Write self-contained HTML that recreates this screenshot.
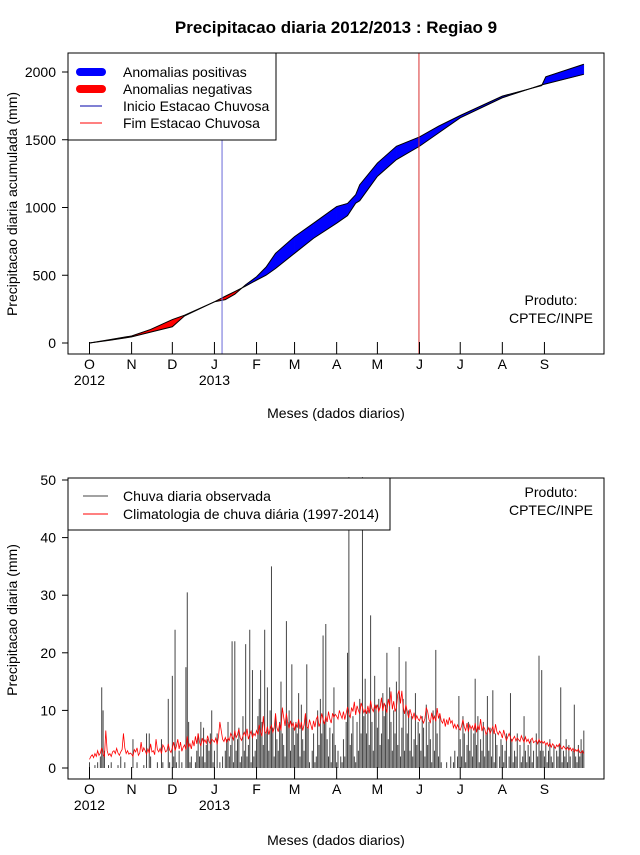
<!DOCTYPE html>
<html><head><meta charset="utf-8"><style>
body{margin:0;background:#fff}
svg text{font-family:"Liberation Sans",sans-serif}
</style></head><body>
<svg id="chart" width="640" height="850" viewBox="0 0 640 850" xmlns="http://www.w3.org/2000/svg">
<rect width="640" height="850" fill="#fff"/>
<text x="336" y="33" text-anchor="middle" font-size="17" font-weight="bold">Precipitacao diaria 2012/2013 : Regiao 9</text>
<g id="topchart"></g><g id="botchart"></g>
</svg>
<script>
// ---- top chart data (cumulative, mm) ----
const cumDays=[0,15,31,45,61,70,92,100,107,115,123,130,137,151,165,182,190,196,199,212,226,243,257,273,304,333,336,364];
const cumObs=[0,20,45,80,120,200,304,320,360,430,489,560,662,785,884,1007,1030,1094,1168,1328,1452,1521,1600,1679,1822,1900,1965,2057];
const cumClim=[0,25,52,100,173,205,304,345,380,420,464,500,550,662,773,884,940,1032,1050,1230,1353,1452,1550,1662,1810,1905,1912,1983];
const topYTicks=[0,500,1000,1500,2000];
const monthLabels=['O','N','D','J','F','M','A','M','J','J','A','S'];
const monthDays=[0,31,61,92,123,151,182,212,243,273,304,335];
const yearLabels=['2012','2013'];
const seasonStart=97.6, seasonEnd=242.6;
// ---- bottom chart data (daily, mm) ----
const dailyObs=[].concat(
[1,0,0,0,0.5,0,1,0,2,14,10,3,0,0,0.5,0,1,0,0,0,0,0.5,0,2,0,0,1,0,0,0,0],
[0,5,0,0,1,0,0,0,0,0.5,0,6,0,6,2,0,0,0,0,1,0,0,5,1,0,0,0,12,1,0],
[16,2,24,1,0,3,0,1,0,0,17.5,30.5,8,1,2,0,0,1,3,6,2,8,2,7,1,4,5,3,6,10,1],
[3,0,6,0,1,0,2,0,3,5,8,2,4,22,1,22,3,5,7,1,2,9,3,21.5,2,4,24,1,17,2,3],
[5,9,12,17,8,4,24,6,14,3,10,35,7,2,9,5,3,8,15,6,4,2,25.5,8,10,3,18,7],
[4,8,6,13,2,11,5,3,9,18,7,1,0,3,6,1,2,10,4,12,6,23,8,25,5,2,7,1,6,14,4],
[1,3,0,2,1,5,2,8,20,55,4,6,9,2,1,8,3,12,6,55,9,15.5,6,10,4,26.5,8,3,16,11],
[7,12,4,6,13,9,11,20,5,14,8,3,10,6,15,4,21,2,7,12,3,18.5,6,10,3,9,2,5,13,4,8],
[6,3,9,7,2,11,4,8,5,1,10,3,20.5,6,2,9,1,0,0,0,1,0,0,2,0,1,3,0,2,12.5],
[5,2,9,6,1,4,8,3,7,2,6,15.5,4,9,1,5,3,8,2,6,12.5,3,7,2,13.5,1,6,4,0,2,5],
[4,1,3,6,0,2,13,5,1,3,2,6,0,4,1,2,9,3,1,4,2,5,1,3,0,6,2,19.5,3,17,3],
[2,4,1,3,5,2,1,4,0,3,2,4,14,1,3,2,5,1,4,2,0,3,11,2,1,4,2,5,3,6.5]);
const dailyClim=[].concat(
[1.5,2,2.3,1.8,2.5,2,3,2.2,2.6,3.5,2.4,2,6.5,3,2.2,2.5,2,2.8,3,2.5,3.4,2.6,2.2,2.8,3.2,6,3.5,2.5,3,2.4,2.6],
[2.4,2,3.2,2.8,3.5,2.2,2.6,4.5,2.8,3.5,3,2.4,3.3,2.6,4.2,2.8,3,2.3,5,3.2,2.8,3.4,2.5,4,3.6,2.8,3,4.2,3.1,2.7],
[3.5,4.5,3,3.8,5,3.3,4.5,2.9,3.6,4,3.2,5.5,3.6,4.2,3.3,4.8,3.8,5.5,4.2,6,4.5,3.8,5.2,4.4,4.9,4.3,5.6,4.6,4.2,5,4.8],
[4.5,5.2,4.1,5.5,8,6.5,5,4.6,5.3,4.5,5.2,4.8,6,5.5,4.9,6.5,5.3,5.8,6.8,5.2,4.8,5.6,6.2,5.5,6.8,5,5.8,6.4,5.3,6,5.6],
[6.5,5.8,7.5,6.2,5.5,9,6.4,6,7.2,5.8,6.7,7.4,6.2,6.9,9.5,7,6.3,7.8,6.5,10.5,8.8,7.3,9.5,7.8,6.9,8.2,7.2,7.8],
[6.5,7.8,7,8.5,6.8,8,6.5,7.5,9.5,7.2,6.9,8.4,7.5,6.6,8.2,7.1,8.5,9,7.2,7.9,9.5,8.4,7.6,9,8,9.8,8.5,7.8,9.5,8.8,9.3],
[9,8.5,10,9.2,8.6,9.8,8.4,9.5,10.6,9.3,8.8,10.5,9.8,11.5,9.2,10.8,10,9.4,11.3,10.5,9.6,10.2,9.4,10.8,9.5,11.7,10.3,9.8,10.9,10.2],
[11,9.8,10.5,12.2,9.9,11.3,10.4,9.6,12,10.8,13.3,10.2,11.6,9.8,10.5,12.8,13.5,11.2,13.4,10.5,9.4,11,9.8,8.7,10.2,9.3,8.6,9.6,8.3,9.1,8.5],
[8.2,9,8.4,7.8,8.6,10.5,9.8,8.4,7.9,9.6,8.3,9,8.1,10.4,8.6,9.5,8.2,7.8,8.6,7.2,8.4,7.5,8.8,7.8,8.2,7,7.6,6.8,7.5,6.9],
[6.6,7.3,8.4,7.1,6.5,7.8,6.3,7.5,6.8,7.3,6.5,7.8,6.2,7.4,6.6,8.5,6.4,7.2,6.8,5.8,6.4,7,6,6.6,7.2,5.9,7.6,6.3,5.8,6.4,6],
[5.2,6.6,5.6,4.8,5.4,6,5.3,4.6,5.1,5.5,4.7,5.2,4.9,4.6,5.6,5,4.5,5.4,4.6,5,4.3,4.9,5.2,4.4,4.6,4.8,4.2,5,4.4,4.7,4.3],
[4.6,4,4.4,3.8,4.3,3.6,4.2,3.9,3.4,4,3.7,4.2,3.6,3.3,3.8,3.5,3.2,3.6,3.1,3.5,3,3.4,2.8,3.2,2.9,3.3,2.7,2.6,3,2.5]);
const botYTicks=[0,10,20,30,40,50];

const NS='http://www.w3.org/2000/svg';
function mk(parent,tag,attrs,text){const e=document.createElementNS(NS,tag);for(const k in attrs)e.setAttribute(k,attrs[k]);if(text!==undefined)e.textContent=text;parent.appendChild(e);return e;}
const L=68,R=604,FS=14;
const xDay=d=>89.5+d*1.358;
const yTop=v=>343-v*0.1355;
const yBot=v=>768-v*5.76;

// ===== TOP =====
const topG=document.getElementById('topchart');


for(let i=0;i<cumDays.length-1;i++){
  const d0=cumDays[i],d1=cumDays[i+1];
  const a0=cumObs[i]-cumClim[i],a1=cumObs[i+1]-cumClim[i+1];
  const segs=[];
  if(a0*a1<0){const t=a0/(a0-a1);const dm=d0+t*(d1-d0);const vm=cumClim[i]+t*(cumClim[i+1]-cumClim[i]);
    segs.push([[d0,cumObs[i],cumClim[i]],[dm,vm,vm],a0]);segs.push([[dm,vm,vm],[d1,cumObs[i+1],cumClim[i+1]],a1]);}
  else segs.push([[d0,cumObs[i],cumClim[i]],[d1,cumObs[i+1],cumClim[i+1]],a0+a1]);
  segs.forEach(s=>{
    const p=mk(topG,'polygon',{points:`${xDay(s[0][0])},${yTop(s[0][1])} ${xDay(s[1][0])},${yTop(s[1][1])} ${xDay(s[1][0])},${yTop(s[1][2])} ${xDay(s[0][0])},${yTop(s[0][2])}`,fill:s[2]>=0?'#0000ff':'#ff0000',stroke:s[2]>=0?'#0000ff':'#ff0000','stroke-width':0.5});
    
    
  });
}
const obsL=mk(topG,'polyline',{points:cumDays.map((d,i)=>xDay(d)+','+yTop(cumObs[i])).join(' '),fill:'none',stroke:'#000','stroke-width':1});


const climL=mk(topG,'polyline',{points:cumDays.map((d,i)=>xDay(d)+','+yTop(cumClim[i])).join(' '),fill:'none',stroke:'#000','stroke-width':1});


const vs=mk(topG,'line',{x1:xDay(seasonStart),x2:xDay(seasonStart),y1:53,y2:354,stroke:'#6a6ad8','stroke-width':1});


const ve=mk(topG,'line',{x1:xDay(seasonEnd),x2:xDay(seasonEnd),y1:53,y2:354,stroke:'#d83030','stroke-width':1});



function axes(g,y0,y1,yTicks,yf,name,xlabY,ylab,ylabCy){
  const b=mk(g,'rect',{x:L,y:y0,width:R-L,height:y1-y0,fill:'none',stroke:'#000','stroke-width':1});
  
  
  yTicks.forEach(v=>{
    mk(g,'line',{x1:62,x2:L,y1:yf(v),y2:yf(v),stroke:'#000'});
    const t=mk(g,'text',{x:56,y:yf(v)+5,'text-anchor':'end','font-size':FS},String(v));
    
    
  });
  monthDays.forEach((d,i)=>{
    mk(g,'line',{x1:xDay(d),x2:xDay(d),y1:y1-12,y2:y1,stroke:'#000'});
    const t=mk(g,'text',{x:xDay(d),y:y1+15,'text-anchor':'middle','font-size':FS},monthLabels[i]);
    
    
  });
  [[0,yearLabels[0]],[92,yearLabels[1]]].forEach(p=>{
    const t=mk(g,'text',{x:xDay(p[0]),y:y1+31,'text-anchor':'middle','font-size':FS},p[1]);
    
    
  });
  const xl=mk(g,'text',{x:336,y:xlabY,'text-anchor':'middle','font-size':FS},'Meses (dados diarios)');
  
  
  const yl=mk(g,'text',{x:0,y:0,'text-anchor':'middle','font-size':FS,transform:`translate(17,${ylabCy}) rotate(-90)`},ylab);
  
  
}
axes(topG,53,354,topYTicks,yTop,'top',418,'Precipitacao diaria acumulada (mm)',204);
const pr1=mk(topG,'text',{x:551,y:305,'text-anchor':'middle','font-size':FS},'Produto:');


const pr2=mk(topG,'text',{x:551,y:323,'text-anchor':'middle','font-size':FS},'CPTEC/INPE');


const lg=mk(topG,'g',{});


mk(lg,'rect',{x:L,y:53,width:208,height:87,fill:'#fff',stroke:'#000'});
[['#0000ff',8,'Anomalias positivas'],['#ff0000',8,'Anomalias negativas'],['#0000aa',1,'Inicio Estacao Chuvosa'],['#ff0000',1,'Fim Estacao Chuvosa']].forEach((e,i)=>{
  const y=72+i*17;
  const it=mk(lg,'g',{});
  
  
  mk(it,'line',{x1:80,x2:102,y1:y,y2:y,stroke:e[0],'stroke-width':e[1],'stroke-linecap':e[1]>1?'round':'butt'});
  mk(it,'text',{x:123,y:y+5,'font-size':FS},e[2]);
});

// ===== BOTTOM =====
const botG=document.getElementById('botchart');


dailyObs.forEach((v,i)=>{
  const vv=Math.min(v,50.5);
  const b=mk(botG,'line',{x1:xDay(i),x2:xDay(i),y1:yBot(0),y2:yBot(vv),stroke:'#444','stroke-width':1});
  
  
});
const cl=mk(botG,'polyline',{points:dailyClim.map((v,i)=>xDay(i)+','+yBot(v)).join(' '),fill:'none',stroke:'#ff0000','stroke-width':0.8});


axes(botG,478,779,botYTicks,yBot,'bottom',845,'Precipitacao diaria (mm)',620);
const pr3=mk(botG,'text',{x:551,y:497,'text-anchor':'middle','font-size':FS},'Produto:');


const pr4=mk(botG,'text',{x:551,y:515,'text-anchor':'middle','font-size':FS},'CPTEC/INPE');


const lg2=mk(botG,'g',{});


mk(lg2,'rect',{x:L,y:478,width:322,height:52,fill:'#fff',stroke:'#000'});
[['#444','Chuva diaria observada'],['#ff0000','Climatologia de chuva diária (1997-2014)']].forEach((e,i)=>{
  const y=496+i*18;
  const it=mk(lg2,'g',{});
  
  
  mk(it,'line',{x1:83,x2:108,y1:y,y2:y,stroke:e[0],'stroke-width':1});
  mk(it,'text',{x:123,y:y+5,'font-size':FS},e[1]);
});
</script>
</body></html>
